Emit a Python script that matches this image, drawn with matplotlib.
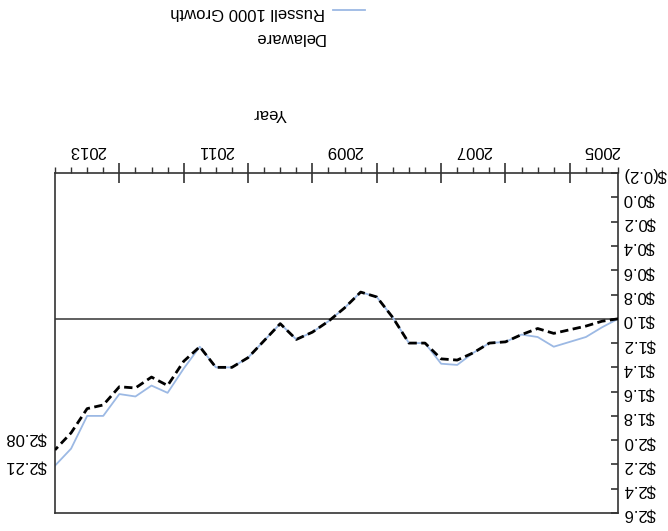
import numpy as np
import matplotlib.pyplot as plt
from matplotlib.lines import Line2D
from matplotlib.ticker import FixedLocator, MultipleLocator, FuncFormatter

plt.rcParams['font.family'] = ['Liberation Sans', 'DejaVu Sans']

# growth of $1, quarter ends from 2005 Q1 to 2013 Q4
quarters = 2005.25 + 0.25 * np.arange(36)

delaware = [1.00, 1.02, 1.06, 1.09, 1.12, 1.08, 1.13, 1.19, 1.20, 1.28,
            1.34, 1.33, 1.20, 1.20, 0.99, 0.82, 0.78, 0.91, 1.02, 1.11,
            1.17, 1.04, 1.18, 1.32, 1.40, 1.40, 1.23, 1.35, 1.55, 1.48,
            1.57, 1.56, 1.71, 1.74, 1.94, 2.08]
russell = [1.00, 1.07, 1.15, 1.19, 1.23, 1.15, 1.13, 1.19, 1.20, 1.28,
           1.38, 1.37, 1.20, 1.20, 0.99, 0.82, 0.78, 0.91, 1.02, 1.11,
           1.17, 1.04, 1.18, 1.32, 1.40, 1.40, 1.23, 1.41, 1.61, 1.55,
           1.64, 1.62, 1.80, 1.80, 2.07, 2.21]

year_labels = ['2005', '2007', '2009', '2011', '2013']
year_label_pos = [2005.5, 2007.5, 2009.5, 2011.5, 2013.5]
year_ticks = [2006, 2007, 2008, 2009, 2010, 2011, 2012, 2013]
value_ticks = [-0.2, 0.0, 0.2, 0.4, 0.6, 0.8, 1.0, 1.2, 1.4, 1.6, 1.8,
               2.0, 2.2, 2.4, 2.6]

blue = '#9cb9e4'


def money(v, pos):
    v = round(v, 1)
    if v < 0:
        return '$({:.1f})'.format(abs(v))
    return '${:.1f}'.format(v)


fig = plt.figure(figsize=(6.68, 5.31), dpi=100)
ax = fig.add_axes([0.0823, 0.0339, 0.843, 0.640])

ax.axhline(1.0, color='#444444', lw=1.2, zorder=1)
ax.plot(quarters, russell, color=blue, lw=1.3, zorder=2)
ax.plot(quarters, delaware, color='black', lw=2.0, ls=(0, (3, 1.6)), zorder=3)

# the page is printed upside down, so both axes run backwards
ax.set_xlim(2014, 2005.25)
ax.set_ylim(2.6, -0.2)

for s in ax.spines.values():
    s.set_linewidth(1.2)
    s.set_color('#333333')

ax.xaxis.tick_top()
ax.xaxis.set_major_locator(FixedLocator(year_ticks))
ax.xaxis.set_minor_locator(MultipleLocator(0.25))
ax.tick_params(axis='x', which='major', direction='inout', length=15,
               width=1.2, color='#333333', labeltop=False, labelbottom=False)
ax.tick_params(axis='x', which='minor', direction='out', length=4.5,
               width=1.0, color='#333333')

ax.yaxis.tick_right()
ax.yaxis.set_major_locator(FixedLocator(value_ticks))
ax.yaxis.set_major_formatter(FuncFormatter(money))
ax.tick_params(axis='y', direction='in', length=5, width=1.2,
               color='#333333', labelsize=12, labelrotation=180, pad=3.5)

for lab, pos in zip(year_labels, year_label_pos):
    ax.annotate(lab, xy=(pos, 1), xycoords=('data', 'axes fraction'),
                xytext=(0, 16.5), textcoords='offset points',
                ha='center', va='center', rotation=180, fontsize=12)

ax.annotate('${:.2f}'.format(delaware[-1]), xy=(quarters[-1], delaware[-1]),
            xytext=(-6, 8.5), textcoords='offset points', ha='right',
            va='center', rotation=180, fontsize=12, annotation_clip=False)
ax.annotate('${:.2f}'.format(russell[-1]), xy=(quarters[-1], russell[-1]),
            xytext=(-6, 0), textcoords='offset points', ha='right',
            va='center', rotation=180, fontsize=12, annotation_clip=False)

fig.text(0.404, 0.786, 'Year', rotation=180, ha='center', va='center',
         fontsize=12)

# legend entries
fig.text(0.4865, 0.977, 'Russell 1000 Growth', rotation=180, ha='right',
         va='center', fontsize=12)
fig.text(0.4865, 0.930, 'Delaware', rotation=180, ha='right',
         va='center', fontsize=12)
fig.add_artist(Line2D([0.4985, 0.546], [0.981, 0.981], color=blue, lw=1.3,
                      transform=fig.transFigure))

fig.savefig('out.png', dpi=100)
